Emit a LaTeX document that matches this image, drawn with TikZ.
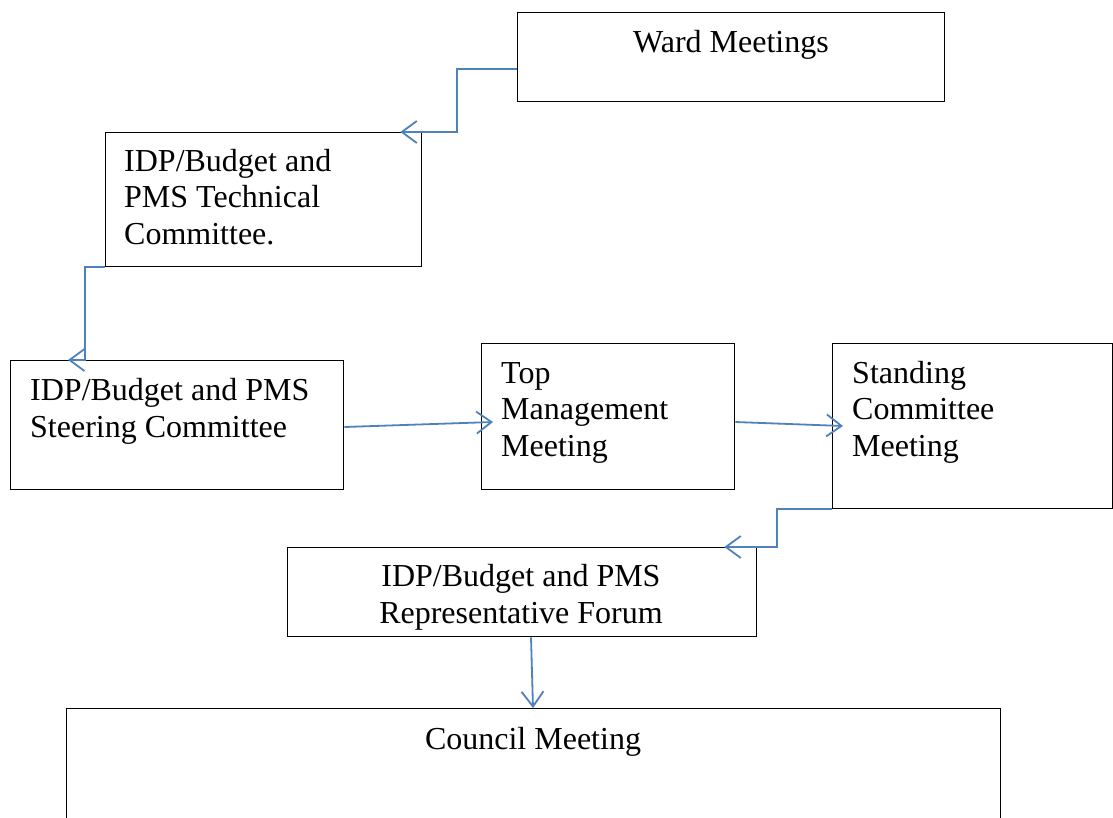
\documentclass[tikz,border=0pt]{standalone}
\usepackage{fontspec}
\setmainfont{Liberation Serif}
\usetikzlibrary{arrows.meta,calc}
\definecolor{lineblue}{HTML}{4F81BD}
\newcommand{\tfont}{\fontsize{32}{36.5}\selectfont}
\begin{document}
\begin{tikzpicture}[x=1pt,y=-1pt,
  box/.style={draw=black,line width=1.3pt,inner sep=0pt,anchor=north west},
  conn/.style={draw=lineblue,line width=1.8pt,-{Straight Barb[length=15pt,width=22pt,line width=1.8pt]}},
  txt/.style={inner sep=0pt,anchor=base west,align=left,font=\tfont},
  ctxt/.style={inner sep=0pt,anchor=base,align=center,font=\tfont}]
\useasboundingbox (0,0) rectangle (1113,817);
\clip (0,0) rectangle (1113,817);
% boxes
\node[box,minimum width=427pt,minimum height=89pt] (ward) at (517,12) {};
\node[box,minimum width=316pt,minimum height=134pt] (tech) at (105,132) {};
\node[box,minimum width=333pt,minimum height=129pt] (steer) at (10,360) {};
\node[box,minimum width=253pt,minimum height=146pt] (top) at (481,343) {};
\node[box,minimum width=280pt,minimum height=165pt] (stand) at (832,343) {};
\node[box,minimum width=469pt,minimum height=89pt] (rep) at (287,547) {};
\node[box,minimum width=934pt,minimum height=140pt] (council) at (66,708) {};
% texts (base anchor = baseline of last line)
\node[ctxt] (wardt) at (731,52) {Ward Meetings};
\node[txt] (techt) at (124,244) {IDP/Budget and\\PMS Technical\\Committee.};
\node[txt] (steert) at (30,437) {IDP/Budget and PMS\\Steering Committee};
\node[txt] (topt) at (501,456) {Top\\Management\\Meeting};
\node[txt] (standt) at (852,456) {Standing\\Committee\\Meeting};
\node[ctxt] (rept) at (521,623) {IDP/Budget and PMS\\Representative Forum};
\node[ctxt] (councilt) at (533,749) {Council Meeting};
% connectors
\draw[conn] ($(ward.north west)+(0,57)$) -- ++(-60,0) |- ($(tech.north east)+(-22,0)$);
\draw[conn] (tech.south west) -- ++(-20,0) |- ($(steer.north west)+(58,0)$);
\draw[conn] ($(steer.north east)+(0,67)$) -- ($(top.north west)+(12,79)$);
\draw[conn] ($(top.north east)+(0,79)$) -- ($(stand.north west)+(11,83)$);
\draw[conn] (stand.south west) -- ++(-55,0) |- ($(rep.north east)+(-33,0)$);
\draw[conn] ($(rep.south west)+(244,0)$) -- ($(council.north west)+(467,0)$);
\end{tikzpicture}
\end{document}
